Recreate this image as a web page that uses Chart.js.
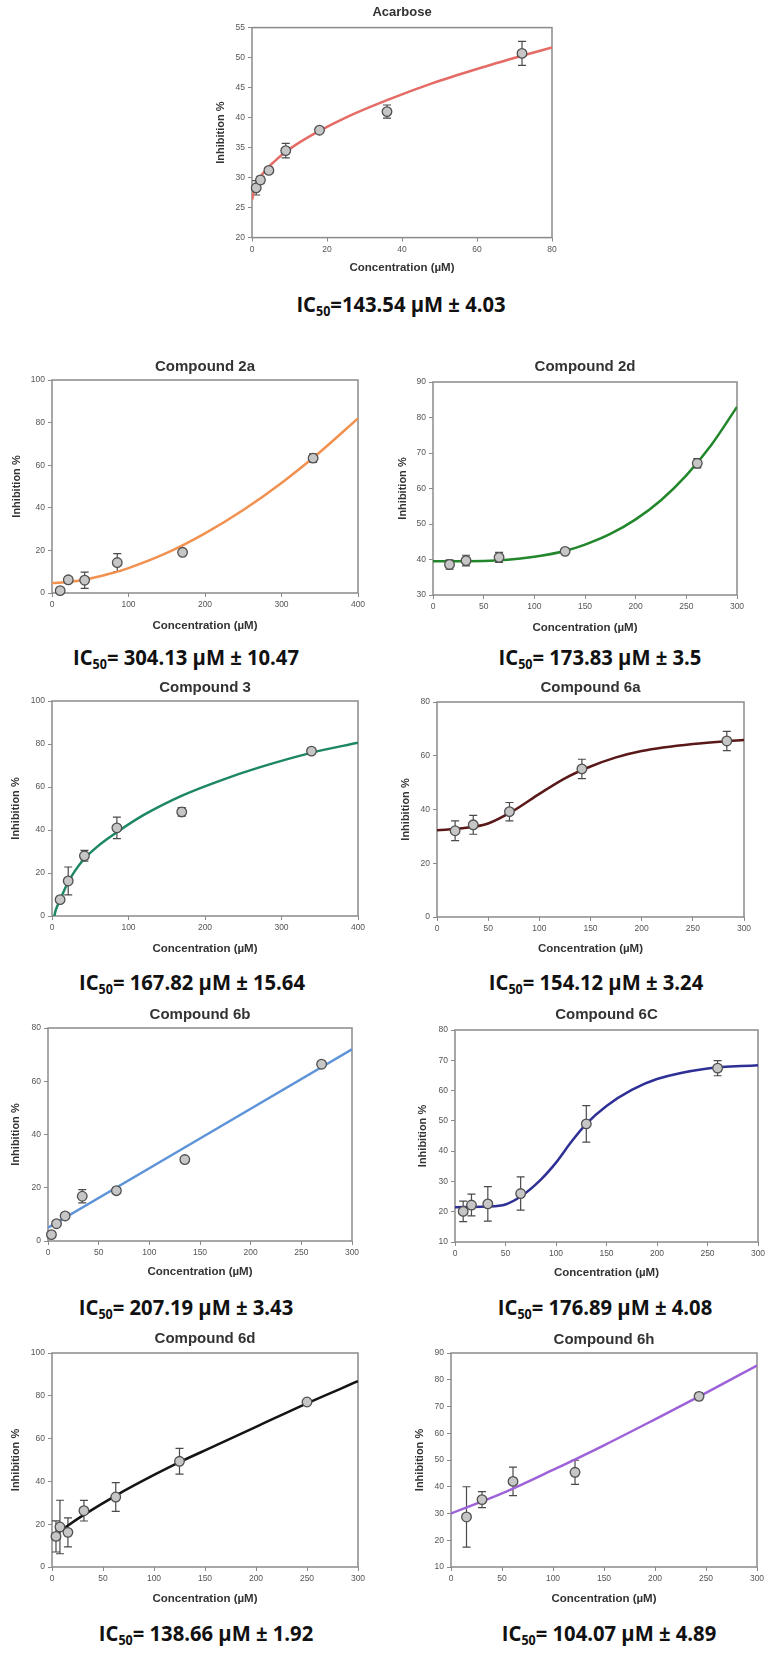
<!DOCTYPE html>
<html>
<head>
<meta charset="utf-8">
<script src="https://cdn.jsdelivr.net/npm/chart.js@4.4.1/dist/chart.umd.min.js"></script>
<style>
  html, body { margin: 0; padding: 0; background: #fff; }
  body { width: 778px; height: 1654px; position: relative; overflow: hidden; }
  canvas { position: absolute; }
  .ic50 {
    position: absolute;
    font-family: 'Open Sans', sans-serif;
    font-weight: 700;
    font-size: 21.5px;
    line-height: 1;
    color: #111;
    white-space: nowrap;
    transform: translate(-50%, -50%) scaleX(0.94);
  }
  .ic50 sub { font-size: 0.62em; vertical-align: -0.28em; line-height: 0; }
</style>
</head>
<body>
<script>
'use strict';

// ---- values ----

// Acarbose
const acarbose_conc = [1.125, 2.25, 4.5, 9, 18, 36, 72];
const acarbose_inh = [28.3, 29.6, 31.2, 34.5, 37.9, 41.0, 50.7];
const acarbose_err = [1.2, 0.6, 0.5, 1.2, 0.4, 1.1, 2.0];
const acarbose_fit_x = [0, 1, 2, 4, 6, 9, 13, 18, 25, 36, 48, 60, 72, 80];
const acarbose_fit_y = [26.3, 28.8, 29.9, 31.5, 32.7, 34.3, 36.0, 37.8, 40.0, 42.9, 45.7, 48.1, 50.3, 51.7];
const acarbose_x_ticks = [0, 20, 40, 60, 80];
const acarbose_y_ticks = [20, 25, 30, 35, 40, 45, 50, 55];

// Compound 2a
const c2a_conc = [10.7, 21.3, 42.7, 85.3, 170.7, 341.3];
const c2a_inh = [1.1, 6.2, 6.0, 14.3, 19.1, 63.3];
const c2a_err = [0.6, 1.5, 3.8, 4.2, 0.8, 2.0];
const c2a_fit_x = [0, 25, 50, 75, 100, 150, 200, 250, 300, 350, 400];
const c2a_fit_y = [4.7, 5.3, 6.8, 9.0, 11.7, 18.8, 28.0, 39.0, 51.7, 66.1, 82.0];
const c2a_x_ticks = [0, 100, 200, 300, 400];
const c2a_y_ticks = [0, 20, 40, 60, 80, 100];

// Compound 2d
const c2d_conc = [16.3, 32.6, 65.2, 130.4, 260.8];
const c2d_inh = [38.6, 39.7, 40.6, 42.3, 67.1];
const c2d_err = [1.3, 1.5, 1.4, 0.4, 1.3];
const c2d_fit_x = [0, 50, 100, 130, 150, 175, 200, 225, 250, 275, 300];
const c2d_fit_y = [39.5, 39.6, 40.8, 42.4, 44.2, 47.2, 51.3, 56.7, 63.7, 72.4, 83.0];
const c2d_x_ticks = [0, 50, 100, 150, 200, 250, 300];
const c2d_y_ticks = [30, 40, 50, 60, 70, 80, 90];

// Compound 3
const c3_conc = [10.6, 21.2, 42.4, 84.8, 169.6, 339.2];
const c3_inh = [7.6, 16.3, 28.0, 41.0, 48.4, 76.7];
const c3_err = [1.0, 6.5, 2.5, 5.0, 2.0, 1.3];
const c3_fit_x = [3, 5, 10, 20, 30, 42, 60, 85, 120, 170, 220, 270, 340, 400];
const c3_fit_y = [0, 2.8, 7, 15, 21, 26.5, 32.5, 39, 47, 56, 63, 69, 76, 80.6];
const c3_x_ticks = [0, 100, 200, 300, 400];
const c3_y_ticks = [0, 20, 40, 60, 80, 100];

// Compound 6a
const c6a_conc = [17.7, 35.4, 70.8, 141.6, 283.2];
const c6a_inh = [32.1, 34.3, 39.2, 55.1, 65.5];
const c6a_err = [3.7, 3.5, 3.4, 3.6, 3.6];
const c6a_fit_x = [0, 25, 50, 75, 100, 125, 150, 175, 200, 250, 300];
const c6a_fit_y = [32.3, 33.0, 34.8, 39.6, 45.8, 51.6, 56.0, 59.4, 61.8, 64.4, 65.9];
const c6a_x_ticks = [0, 50, 100, 150, 200, 250, 300];
const c6a_y_ticks = [0, 20, 40, 60, 80];

// Compound 6b
const c6b_conc = [3.4, 8.4, 16.9, 33.8, 67.5, 135, 270];
const c6b_inh = [2.4, 6.5, 9.4, 16.8, 18.9, 30.6, 66.4];
const c6b_err = [0.4, 0.6, 1.2, 2.5, 1.0, 0.8, 0.6];
const c6b_fit_x = [0, 300];
const c6b_fit_y = [5.0, 72.0];
const c6b_x_ticks = [0, 50, 100, 150, 200, 250, 300];
const c6b_y_ticks = [0, 20, 40, 60, 80];

// Compound 6C
const c6c_conc = [8.1, 16.3, 32.5, 65, 130, 260];
const c6c_inh = [20.1, 22.2, 22.6, 26.0, 49.0, 67.4];
const c6c_err = [3.4, 3.6, 5.7, 5.5, 6.0, 2.5];
const c6c_fit_x = [0, 30, 50, 65, 85, 100, 115, 130, 150, 175, 200, 250, 300];
const c6c_fit_y = [21.5, 21.7, 22.4, 25.0, 30.6, 36.2, 43.0, 49.0, 54.9, 60.2, 63.8, 67.3, 68.4];
const c6c_x_ticks = [0, 50, 100, 150, 200, 250, 300];
const c6c_y_ticks = [10, 20, 30, 40, 50, 60, 70, 80];

// Compound 6d
const c6d_conc = [3.9, 7.8, 15.6, 31.3, 62.5, 125, 250];
const c6d_inh = [14.3, 18.7, 16.2, 26.3, 32.7, 49.4, 77.1];
const c6d_err = [7.3, 12.5, 6.8, 4.8, 6.7, 6.0, 0.8];
const c6d_fit_x = [3, 15, 30, 63, 100, 125, 150, 200, 250, 300];
const c6d_fit_y = [15.0, 19.2, 24.0, 33.5, 43.0, 49.0, 54.5, 65.5, 76.5, 86.8];
const c6d_x_ticks = [0, 50, 100, 150, 200, 250, 300];
const c6d_y_ticks = [0, 20, 40, 60, 80, 100];

// Compound 6h
const c6h_conc = [15.2, 30.4, 60.8, 121.6, 243.2];
const c6h_inh = [28.7, 35.2, 42.0, 45.4, 73.8];
const c6h_err = [11.3, 3.0, 5.3, 4.5, 1.2];
const c6h_fit_x = [0, 50, 100, 150, 200, 250, 300];
const c6h_fit_y = [30.0, 37.5, 46.3, 55.5, 65.2, 75.1, 85.3];
const c6h_x_ticks = [0, 50, 100, 150, 200, 250, 300];
const c6h_y_ticks = [10, 20, 30, 40, 50, 60, 70, 80, 90];

const titles = ['Acarbose', 'Compound 2a', 'Compound 2d', 'Compound 3', 'Compound 6a',
  'Compound 6b', 'Compound 6C', 'Compound 6d', 'Compound 6h'];
const ic50_text = ['=143.54 µM ± 4.03', '= 304.13 µM ± 10.47', '= 173.83 µM ± 3.5',
  '= 167.82 µM ± 15.64', '= 154.12 µM ± 3.24', '= 207.19 µM ± 3.43',
  '= 176.89 µM ± 4.08', '= 138.66 µM ± 1.92', '= 104.07 µM ± 4.89'];

// ---- chart pieces ----
const series = [
  [acarbose_conc, acarbose_inh, acarbose_err, acarbose_fit_x, acarbose_fit_y, acarbose_x_ticks, acarbose_y_ticks],
  [c2a_conc, c2a_inh, c2a_err, c2a_fit_x, c2a_fit_y, c2a_x_ticks, c2a_y_ticks],
  [c2d_conc, c2d_inh, c2d_err, c2d_fit_x, c2d_fit_y, c2d_x_ticks, c2d_y_ticks],
  [c3_conc, c3_inh, c3_err, c3_fit_x, c3_fit_y, c3_x_ticks, c3_y_ticks],
  [c6a_conc, c6a_inh, c6a_err, c6a_fit_x, c6a_fit_y, c6a_x_ticks, c6a_y_ticks],
  [c6b_conc, c6b_inh, c6b_err, c6b_fit_x, c6b_fit_y, c6b_x_ticks, c6b_y_ticks],
  [c6c_conc, c6c_inh, c6c_err, c6c_fit_x, c6c_fit_y, c6c_x_ticks, c6c_y_ticks],
  [c6d_conc, c6d_inh, c6d_err, c6d_fit_x, c6d_fit_y, c6d_x_ticks, c6d_y_ticks],
  [c6h_conc, c6h_inh, c6h_err, c6h_fit_x, c6h_fit_y, c6h_x_ticks, c6h_y_ticks],
];

const fit_colors = ['#e46b66', '#f2914f', '#22862a', '#1d8763', '#5a1818',
  '#5d93d8', '#2f3096', '#141414', '#9d62d8'];

// plot box on the page (px), title sizes and gaps, IC50 label centre
const boxes = [
  { left: 252, top: 28, w: 300, h: 210, ts: 13, tg: 7, yg: 31, xg: 30, lx: 401, ly: 304 },
  { left: 52, top: 380, w: 306, h: 213, ts: 15, tg: 4, yg: 35, xg: 33, lx: 186, ly: 657 },
  { left: 433, top: 382, w: 304, h: 213, ts: 15, tg: 6, yg: 30, xg: 33, lx: 600, ly: 657 },
  { left: 52, top: 701, w: 306, h: 215, ts: 15, tg: 4, yg: 36, xg: 33, lx: 192, ly: 982 },
  { left: 437, top: 702, w: 307, h: 215, ts: 15, tg: 5, yg: 31, xg: 32, lx: 596, ly: 982 },
  { left: 48, top: 1028, w: 304, h: 213, ts: 15, tg: 4, yg: 32, xg: 31, lx: 186, ly: 1307 },
  { left: 455, top: 1030, w: 303, h: 212, ts: 15, tg: 6, yg: 32, xg: 31, lx: 605, ly: 1307 },
  { left: 52, top: 1353, w: 306, h: 214, ts: 15, tg: 5, yg: 36, xg: 32, lx: 206, ly: 1633 },
  { left: 451, top: 1353, w: 306, h: 214, ts: 15, tg: 4, yg: 31, xg: 32, lx: 609, ly: 1633 },
];

const YW = 44; // width of the y axis box
const RP = 12; // right padding

Chart.defaults.font.family = "'Liberation Sans', Arial, sans-serif";

// box around the plot area
const framePlugin = {
  id: 'frame',
  beforeDatasetsDraw(chart) {
    const { ctx, chartArea: a } = chart;
    ctx.save();
    ctx.strokeStyle = '#8a8a8a';
    ctx.lineWidth = 1.5;
    ctx.strokeRect(a.left, a.top, a.right - a.left, a.bottom - a.top);
    ctx.restore();
  },
};

// error bars, drawn under the circles
const errorBarPlugin = {
  id: 'errorBars',
  beforeDatasetsDraw(chart) {
    const ds = chart.data.datasets[0];
    const { ctx, scales: { x, y } } = chart;
    ctx.save();
    ctx.strokeStyle = '#4a4a4a';
    ctx.lineWidth = 1.2;
    ds.data.forEach((p, i) => {
      const e = ds.errors[i];
      const px = x.getPixelForValue(p.x);
      const top = y.getPixelForValue(p.y + e);
      const bot = y.getPixelForValue(p.y - e);
      ctx.beginPath();
      ctx.moveTo(px, top);
      ctx.lineTo(px, bot);
      ctx.moveTo(px - 4, top);
      ctx.lineTo(px + 4, top);
      ctx.moveTo(px - 4, bot);
      ctx.lineTo(px + 4, bot);
      ctx.stroke();
    });
    ctx.restore();
  },
};

series.forEach(([conc, inh, err, fit_x, fit_y, x_ticks, y_ticks], i) => {
  const b = boxes[i];
  const titleH = 4 + b.ts * 1.2 + b.tg;
  const canvasH = Math.ceil(titleH + b.h + b.xg + 6.9);
  const xh = canvasH - titleH - b.h;

  const canvas = document.createElement('canvas');
  canvas.width = YW + b.w + RP;
  canvas.height = canvasH;
  canvas.style.left = (b.left - YW) + 'px';
  canvas.style.top = (b.top - titleH) + 'px';
  document.body.appendChild(canvas);

  new Chart(canvas.getContext('2d'), {
    type: 'scatter',
    data: {
      datasets: [
        {
          data: conc.map((c, k) => ({ x: c, y: inh[k] })),
          errors: err,
          pointRadius: 4.8,
          pointBackgroundColor: '#c6c6c6',
          pointBorderColor: '#505050',
          pointBorderWidth: 1.3,
          clip: false,
        },
        {
          data: fit_x.map((c, k) => ({ x: c, y: fit_y[k] })),
          showLine: true,
          pointRadius: 0,
          borderColor: fit_colors[i],
          borderWidth: 2.5,
          cubicInterpolationMode: 'monotone',
        },
      ],
    },
    options: {
      responsive: false,
      animation: false,
      layout: { padding: { left: 0, right: RP, top: 0, bottom: 0 }, autoPadding: false },
      scales: {
        x: {
          type: 'linear',
          min: x_ticks[0],
          max: x_ticks[x_ticks.length - 1],
          afterFit: (s) => { s.height = xh; },
          ticks: { stepSize: x_ticks[1] - x_ticks[0], color: '#555', font: { size: 8.5 }, padding: 3, maxRotation: 0, autoSkip: false },
          grid: { drawOnChartArea: false, tickLength: 4, color: '#8a8a8a' },
          border: { display: false },
          title: {
            display: true,
            text: 'Concentration (µM)',
            color: '#333',
            font: { size: 11.5, weight: 'bold' },
            padding: { top: 0, bottom: xh - b.xg - 6.9 },
          },
        },
        y: {
          type: 'linear',
          min: y_ticks[0],
          max: y_ticks[y_ticks.length - 1],
          afterFit: (s) => { s.width = YW; },
          ticks: { stepSize: y_ticks[1] - y_ticks[0], color: '#555', font: { size: 8.5 }, padding: 3, autoSkip: false },
          grid: { drawOnChartArea: false, tickLength: 4, color: '#8a8a8a' },
          border: { display: false },
          title: {
            display: true,
            text: 'Inhibition %',
            color: '#333',
            font: { size: 11, weight: 'bold' },
            padding: { top: YW - 6.6 - b.yg, bottom: 0 },
          },
        },
      },
      plugins: {
        legend: { display: false },
        tooltip: { enabled: false },
        title: {
          display: true,
          text: titles[i],
          fullSize: false,
          color: '#333',
          font: { size: b.ts, weight: 'bold' },
          padding: { top: 4, bottom: b.tg },
        },
      },
    },
    plugins: [framePlugin, errorBarPlugin],
  });

  // IC50 line under each panel
  const label = document.createElement('div');
  label.className = 'ic50';
  label.innerHTML = 'IC<sub>50</sub>' + ic50_text[i];
  label.style.left = b.lx + 'px';
  label.style.top = b.ly + 'px';
  document.body.appendChild(label);
});
</script>
</body>
</html>
